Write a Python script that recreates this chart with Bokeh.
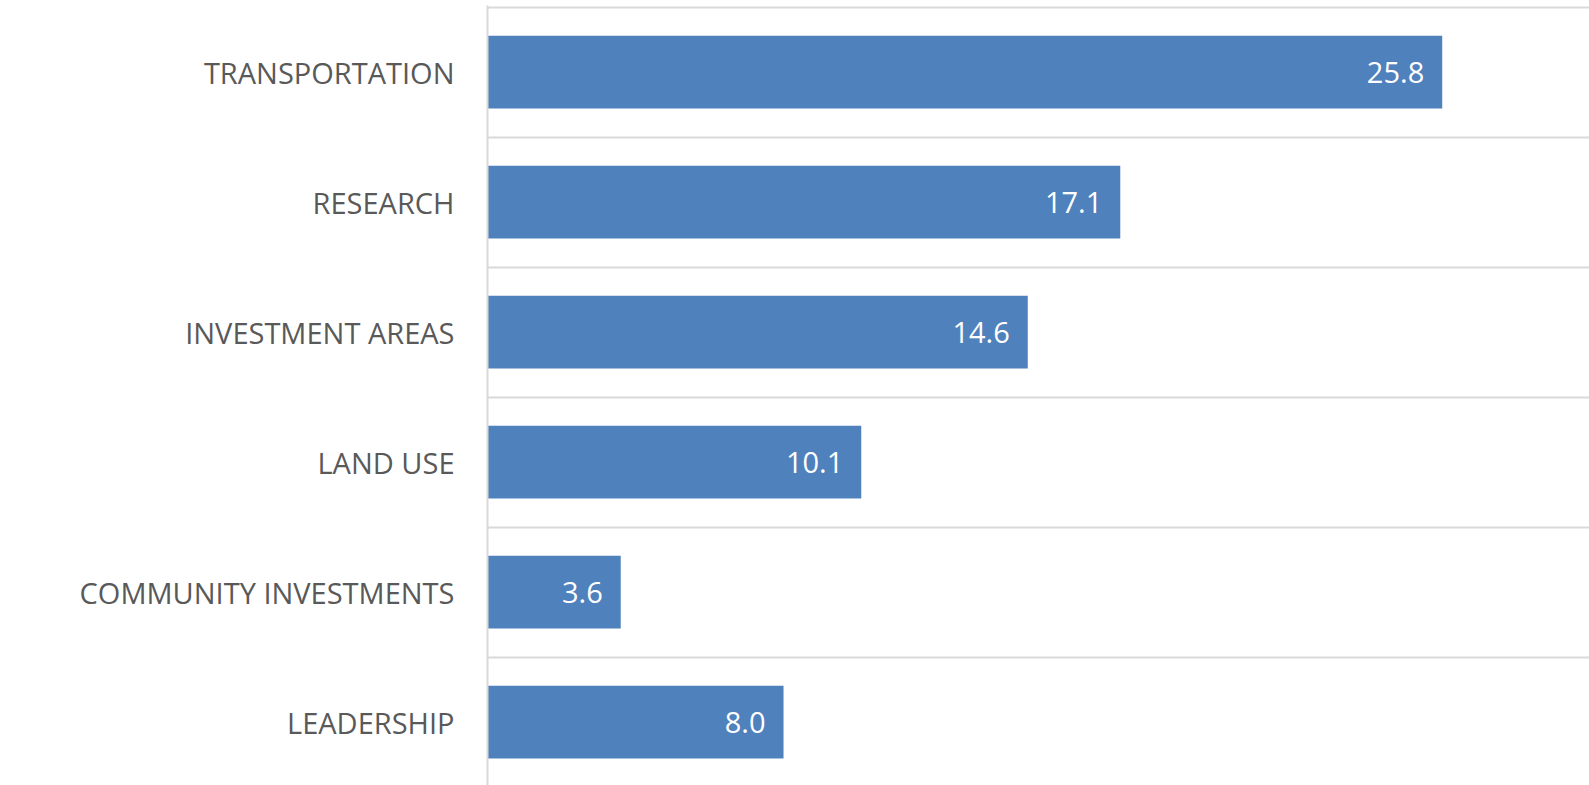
from bokeh.plotting import figure
from bokeh.models import ColumnDataSource, Range1d, FixedTicker
from bokeh.core.properties import value
from bokeh.embed import file_html
from bokeh.resources import INLINE

categories = ["TRANSPORTATION", "RESEARCH", "INVESTMENT AREAS", "LAND USE",
              "COMMUNITY INVESTMENTS", "LEADERSHIP"]
values = [25.8, 17.1, 14.6, 10.1, 3.6, 8.0]

positions = list(range(len(categories)))
labels = [f"{v:.1f}" for v in values]
boundaries = [i - 0.5 for i in range(len(categories) + 1)]

src = ColumnDataSource(dict(y=positions, v=values, lab=labels))

p = figure(width=1589, height=785, output_backend="svg", toolbar_location=None,
           x_range=Range1d(0, 29.78), y_range=Range1d(5.4869, -0.5131),
           x_axis_location=None,
           min_border_left=487, min_border_right=0, min_border_top=5, min_border_bottom=0)
p.outline_line_color = None
p.background_fill_color = "white"
p.border_fill_color = "white"

p.hbar(y="y", right="v", left=0, height=0.56, fill_color="#4f81bd",
       line_color=None, source=src)
p.text(x="v", y="y", text="lab", x_offset=-18, text_align="right",
       text_baseline="middle", text_color="white", text_font=value("Open Sans"),
       text_font_size="29px", source=src)

yax = p.yaxis[0]
yax.ticker = FixedTicker(ticks=positions)
yax.major_label_overrides = {i: c for i, c in zip(positions, categories)}
yax.axis_line_color = "#d9d9d9"
yax.axis_line_width = 2
yax.major_tick_line_color = None
yax.minor_tick_line_color = None
yax.major_tick_out = 0
yax.major_tick_in = 0
yax.major_label_standoff = 33
yax.major_label_text_font = "Open Sans"
yax.major_label_text_font_size = "29px"
yax.major_label_text_color = "#595959"

p.xgrid.visible = False
p.ygrid.ticker = FixedTicker(ticks=boundaries)
p.ygrid.grid_line_color = "#d9d9d9"
p.ygrid.grid_line_width = 2

open("out.html", "w").write(file_html(p, INLINE))
